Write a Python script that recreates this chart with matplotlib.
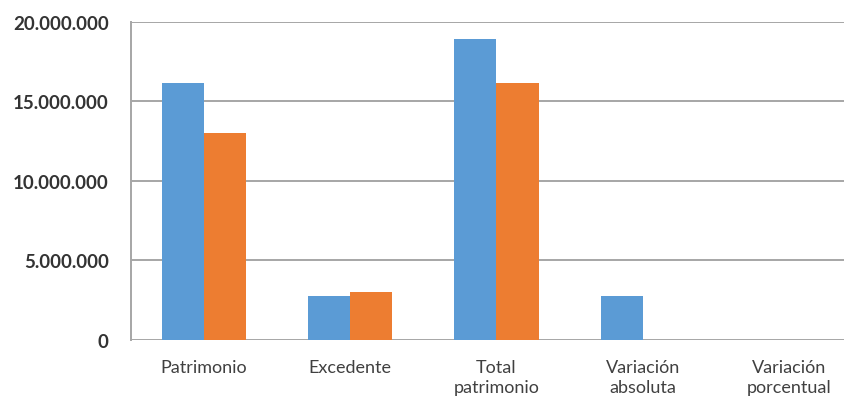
import numpy as np
import matplotlib
matplotlib.use("Agg")
import matplotlib.pyplot as plt
from matplotlib.ticker import FuncFormatter

# data
categories = ["Patrimonio", "Excedente", "Total\npatrimonio", "Variación\nabsoluta", "Variación\nporcentual"]
serie_1 = [16140000, 2790000, 18930000, 2790000, 0]
serie_2 = [13000000, 3040000, 16140000, np.nan, np.nan]
y_ticks = [0, 5000000, 10000000, 15000000, 20000000]

blue = "#5B9BD5"
orange = "#ED7D31"
grid_c = "#A6A6A6"
text_c = "#404040"

plt.rcParams['font.family'] = ['Lato', 'DejaVu Sans']

fig = plt.figure(figsize=(8.44, 4.02), dpi=100)
ax = fig.add_axes([131/844, 61/402, 1 - 131/844, (341 - 22.7)/402])

x = np.arange(len(categories))
w = 0.288
ax.bar(x - w/2, serie_1, w, color=blue, zorder=3)
ax.bar(x + w/2, serie_2, w, color=orange, zorder=3)

ax.set_ylim(0, 20000000)
ax.set_xlim(-0.5, 4.377)
ax.set_yticks(y_ticks)
ax.yaxis.set_major_formatter(FuncFormatter(lambda v, p: "{:,.0f}".format(v).replace(",", ".")))
ax.grid(axis='y', color=grid_c, linewidth=1.4, zorder=0)
ax.set_xticks(x)
ax.set_xticklabels(categories, fontsize=13, color=text_c, linespacing=1.3, va='top')

for s in ['top', 'right', 'bottom']:
    ax.spines[s].set_visible(False)
ax.spines['left'].set_color(grid_c)
ax.spines['left'].set_linewidth(1.4)
ax.tick_params(axis='both', length=0)
ax.tick_params(axis='y', pad=16, labelsize=13.5, labelcolor="#333333")
ax.tick_params(axis='x', pad=14)
for lbl in ax.get_yticklabels():
    lbl.set_fontweight('bold')

fig.savefig("out.png", dpi=100)
